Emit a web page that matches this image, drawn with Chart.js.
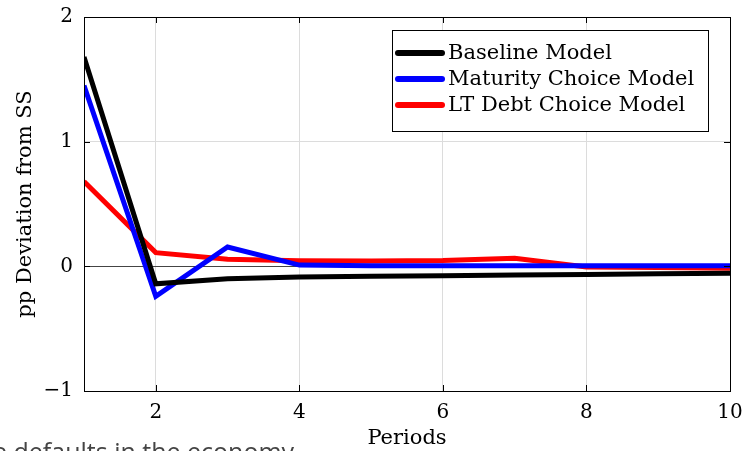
<!DOCTYPE html>
<html>
<head>
<meta charset="utf-8">
<script src="https://cdn.jsdelivr.net/npm/chart.js@4/dist/chart.umd.min.js"></script>
<style>
  html, body { margin: 0; padding: 0; background: #fff; overflow: hidden; }
  #caja { position: relative; width: 742px; height: 451px; overflow: hidden; }
  #nota { position: absolute; left: -7px; top: 439px; font: 25px/25px "Open Sans", sans-serif; color: #444; white-space: nowrap; }
</style>
</head>
<body>
<div id="caja">
  <canvas id="grafico" width="742" height="451"></canvas>
  <div id="nota">e defaults in the economy</div>
</div>
<script>
const periodos = [1, 2, 3, 4, 5, 6, 7, 8, 9, 10];
const baseline = [1.68, -0.14, -0.10, -0.085, -0.08, -0.075, -0.07, -0.065, -0.06, -0.055];
const maturityChoice = [1.45, -0.24, 0.155, 0.01, 0.005, 0.005, 0.005, 0.005, 0.005, 0.005];
const ltDebtChoice = [0.68, 0.11, 0.057, 0.045, 0.042, 0.047, 0.065, -0.005, -0.01, -0.015];
const nombresSeries = ['Baseline Model', 'Maturity Choice Model', 'LT Debt Choice Model'];
const coloresSeries = ['#000000', '#0000ff', '#ff0000'];
const ticksX = [2, 4, 6, 8, 10];
const ticksY = [-1, 0, 1, 2];

const fuenteSerif = '"DejaVu Serif", "Liberation Serif", serif';

function puntos(valores) {
    return periodos.map((p, i) => ({ x: p, y: valores[i] }));
}

// caja completa, marcas hacia dentro y leyenda dentro del area
const pluginMarco = {
    id: 'marco',
    afterDraw(chart) {
        const ctx = chart.ctx;
        const a = chart.chartArea;
        const sx = chart.scales.x;
        const sy = chart.scales.y;
        ctx.save();
        ctx.strokeStyle = '#000';
        ctx.lineWidth = 1;
        ctx.beginPath();
        for (let v of ticksX) {
            let px = Math.round(sx.getPixelForValue(v)) + 0.5;
            ctx.moveTo(px, a.bottom); ctx.lineTo(px, a.bottom - 6);
            ctx.moveTo(px, a.top); ctx.lineTo(px, a.top + 6);
        }
        for (let v of ticksY) {
            let py = Math.round(sy.getPixelForValue(v)) + 0.5;
            ctx.moveTo(a.left, py); ctx.lineTo(a.left + 6, py);
            ctx.moveTo(a.right, py); ctx.lineTo(a.right - 6, py);
        }
        ctx.stroke();
        ctx.strokeRect(Math.round(a.left) + 0.5, Math.round(a.top) + 0.5,
            Math.round(a.right - a.left), Math.round(a.bottom - a.top));

        // leyenda
        const lx = 392, ly = 30, lw = 316, lh = 101;
        ctx.fillStyle = '#fff';
        ctx.fillRect(lx, ly, lw, lh);
        ctx.strokeRect(lx + 0.5, ly + 0.5, lw, lh);
        ctx.font = '21px ' + fuenteSerif;
        ctx.textBaseline = 'middle';
        chart.data.datasets.forEach((ds, i) => {
            let y = ly + 23 + i * 26;
            ctx.strokeStyle = ds.borderColor;
            ctx.lineWidth = 6;
            ctx.lineCap = 'round';
            ctx.beginPath();
            ctx.moveTo(lx + 6, y);
            ctx.lineTo(lx + 50, y);
            ctx.stroke();
            ctx.fillStyle = '#000';
            ctx.fillText(ds.label, lx + 56, y + 1);
        });
        ctx.restore();
    }
};

const series = [baseline, maturityChoice, ltDebtChoice];

new Chart(document.getElementById('grafico'), {
    type: 'line',
    data: {
        datasets: series.map((valores, i) => ({
            label: nombresSeries[i],
            data: puntos(valores),
            borderColor: coloresSeries[i],
            borderWidth: 5,
            pointRadius: 0,
            tension: 0,
            fill: false
        }))
    },
    options: {
        responsive: false,
        animation: false,
        layout: { padding: { top: 17, right: 12, left: 0, bottom: 0 } },
        plugins: {
            legend: { display: false },
            tooltip: { enabled: false }
        },
        scales: {
            x: {
                type: 'linear',
                min: 1,
                max: 10,
                afterBuildTicks: (escala) => { escala.ticks = ticksX.map(v => ({ value: v })); },
                afterFit: (escala) => {
                    escala.height = 60;
                    escala.paddingLeft = 0;
                    escala.paddingRight = 0;
                },
                grid: { color: '#dcdcdc', drawTicks: false },
                border: { display: false },
                ticks: {
                    color: '#000',
                    padding: 10,
                    maxRotation: 0,
                    font: { family: fuenteSerif, size: 20 }
                },
                title: {
                    display: true,
                    text: 'Periods',
                    color: '#000',
                    padding: { top: 0, bottom: 0 },
                    font: { family: fuenteSerif, size: 21, lineHeight: 1.2 }
                }
            },
            y: {
                min: -1,
                max: 2,
                afterBuildTicks: (escala) => { escala.ticks = ticksY.map(v => ({ value: v })); },
                afterFit: (escala) => {
                    escala.width = 84;
                    escala.paddingTop = 0;
                    escala.paddingBottom = 0;
                },
                grid: {
                    drawTicks: false,
                    color: (c) => c.tick && c.tick.value === 0 ? '#444' : '#dcdcdc'
                },
                border: { display: false },
                ticks: {
                    color: '#000',
                    padding: 11,
                    font: { family: fuenteSerif, size: 20 },
                    callback: (v) => v < 0 ? '\u2212' + Math.abs(v) : String(v)
                },
                title: {
                    display: true,
                    text: 'pp Deviation from SS',
                    color: '#000',
                    padding: { top: 13, bottom: 0 },
                    font: { family: fuenteSerif, size: 21, lineHeight: 1.2 }
                }
            }
        }
    },
    plugins: [pluginMarco]
});
</script>
</body>
</html>
